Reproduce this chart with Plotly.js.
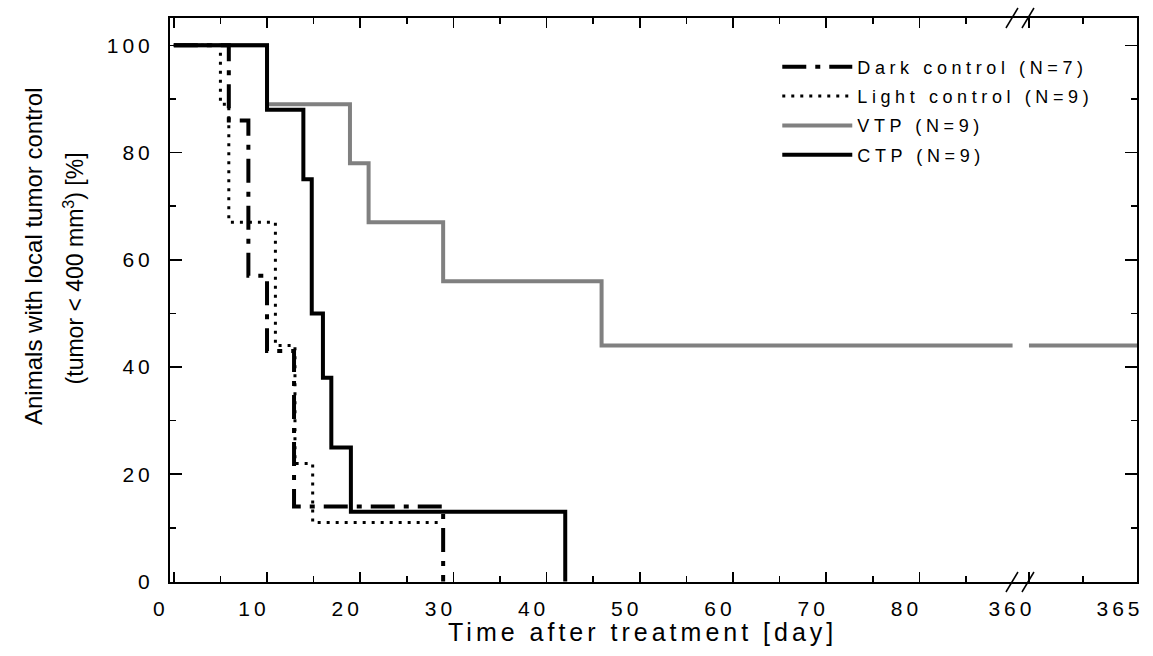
<!DOCTYPE html>
<html><head><meta charset="utf-8">
<script src="https://cdn.plot.ly/plotly-3.0.1.min.js"></script>
<style>
html,body{margin:0;padding:0;background:#fff;}
#chart{width:1153px;height:656px;}
g.xtick text, g.x2tick text, g.ytick text { letter-spacing: 4px; }
g.legend text.legendtext { letter-spacing: 4.6px; }
g.legend g.scrollbox, g.legend { clip-path: none !important; }
g.annotation[data-index="0"] text { letter-spacing: 4px; }
</style>
</head><body><div id="chart"></div>
<script>
// ---- data (days, % animals with local tumor control) ----
const darkDays  = [0, 5.9, 8.0, 10.0, 12.9, 28.9];
const darkSurv  = [100, 86, 57, 43, 14, 0];
const lightDays = [0, 5.0, 5.9, 10.9, 13.0, 14.9, 28.9];
const lightSurv = [100, 89, 67, 44, 22, 11, 11];
const vtpDays   = [0, 10.0, 18.9, 20.9, 28.9, 45.9, 90.0];
const vtpSurv   = [100, 89, 78, 67, 56, 44, 44];
const vtpTailDays = [360, 365];
const vtpTailSurv = [44, 44];
const ctpDays   = [0, 10.0, 13.9, 14.8, 16.0, 16.9, 19.0, 42.0];
const ctpSurv   = [100, 88, 75, 50, 38, 25, 13, 0];

const seriesNames = ['Dark control (N=7)', 'Light control (N=9)', 'VTP (N=9)', 'CTP (N=9)'];

const xTicksLeft  = [0, 10, 20, 30, 40, 50, 60, 70, 80];
const xMinorLeft  = [5, 15, 25, 35, 45, 55, 65, 75, 85];
const xTicksRight = [360, 365];
const xMinorRight = [362.5];
const yTicks = [0, 20, 40, 60, 80, 100];
const yMinor = [10, 30, 50, 70, 90];

const FONT = 'Liberation Sans, Arial, sans-serif';
const GRAY = '#808080';

const traces = [
  {x: vtpDays, y: vtpSurv, name: seriesNames[2], legendrank: 3, legendgroup: 'vtp', mode: 'lines',
   line: {shape: 'hv', color: GRAY, width: 4}, xaxis: 'x', yaxis: 'y'},
  {x: vtpTailDays, y: vtpTailSurv, name: seriesNames[2], legendgroup: 'vtp', showlegend: false, mode: 'lines',
   line: {shape: 'hv', color: GRAY, width: 4}, xaxis: 'x2', yaxis: 'y2'},
  {x: ctpDays, y: ctpSurv, name: seriesNames[3], legendrank: 4, legendgroup: 'ctp', mode: 'lines',
   line: {shape: 'hv', color: '#000', width: 4}, xaxis: 'x', yaxis: 'y'},
  {x: lightDays, y: lightSurv, name: seriesNames[1], legendrank: 2, legendgroup: 'light', mode: 'lines',
   line: {shape: 'hv', color: '#000', width: 3, dash: '3px,6px'}, xaxis: 'x', yaxis: 'y'},
  {x: darkDays, y: darkSurv, name: seriesNames[0], legendrank: 1, legendgroup: 'dark', mode: 'lines',
   line: {shape: 'hv', color: '#000', width: 4, dash: '24px,9px,5px,9px'}, xaxis: 'x', yaxis: 'y'}
];

const BRK = 0.880;
const tickFont = {family: FONT, size: 21, color: '#000'};

const axCommon = {
  showline: true, linecolor: '#000', linewidth: 2, showgrid: false, zeroline: false,
  ticks: 'inside', tickcolor: '#000', tickwidth: 1.5, tickfont: tickFont
};

const layout = {
  width: 1153, height: 656,
  margin: {l: 170, r: 16, t: 18, b: 74},
  paper_bgcolor: '#fff', plot_bgcolor: '#fff',
  font: {family: FONT, color: '#000'},
  showlegend: true,
  legend: {x: 0.628, y: 0.946, xanchor: 'left', yanchor: 'top', bgcolor: 'rgba(0,0,0,0)',
           font: {family: FONT, size: 18, color: '#000'}, itemwidth: 70,
           traceorder: 'grouped', tracegroupgap: 3},
  xaxis: Object.assign({}, axCommon, {
    domain: [0, BRK], range: [-0.41, 90.9], anchor: 'y',
    tickmode: 'array', tickvals: xTicksLeft, ticktext: xTicksLeft.map(String), ticklen: 10,
    mirror: 'allticks', ticklabelshift: -13, ticklabelstandoff: 7,
    minor: {tickmode: 'array', tickvals: xMinorLeft, ticks: 'inside', ticklen: 6, tickcolor: '#000', tickwidth: 1.5}
  }),
  xaxis2: Object.assign({}, axCommon, {
    domain: [BRK, 1], range: [359.63, 365], anchor: 'y2',
    tickmode: 'array', tickvals: xTicksRight, ticktext: xTicksRight.map(String), ticklen: 10,
    mirror: 'allticks', ticklabelshift: -17, ticklabelstandoff: 7,
    minor: {tickmode: 'array', tickvals: xMinorRight, ticks: 'inside', ticklen: 6, tickcolor: '#000', tickwidth: 1.5}
  }),
  yaxis: Object.assign({}, axCommon, {
    range: [-0.1, 105.1], anchor: 'x', tickmode: 'array', tickvals: yTicks, ticklen: 12,
    ticklabelstandoff: 10,
    minor: {tickmode: 'array', tickvals: yMinor, ticks: 'inside', ticklen: 6, tickcolor: '#000', tickwidth: 1.5}
  }),
  yaxis2: Object.assign({}, axCommon, {
    range: [-0.1, 105.1], anchor: 'x2', side: 'right', tickmode: 'array', tickvals: yTicks, ticklen: 12,
    showticklabels: false,
    minor: {tickmode: 'array', tickvals: yMinor, ticks: 'inside', ticklen: 6, tickcolor: '#000', tickwidth: 1.5}
  }),
  annotations: [
    {text: 'Time after treatment [day]', xref: 'paper', yref: 'paper', x: 0.489, y: -0.0887,
     xanchor: 'center', yanchor: 'middle', showarrow: false, font: {family: FONT, size: 25, color: '#000'}},
    {text: 'Animals with local tumor control', xref: 'paper', yref: 'paper', x: -0.1417, y: 0.578,
     xanchor: 'center', yanchor: 'middle', textangle: -90, showarrow: false, font: {family: FONT, size: 24, color: '#000'}},
    {text: '(tumor < 400 mm<sup>3</sup>) [%]', xref: 'paper', yref: 'paper', x: -0.0993, y: 0.556,
     xanchor: 'center', yanchor: 'middle', textangle: -90, showarrow: false, font: {family: FONT, size: 23, color: '#000'}}
  ],
  shapes: [
    // axis-break marks at top and bottom
    {type: 'line', xref: 'paper', yref: 'paper', xsizemode: 'pixel', ysizemode: 'pixel', xanchor: BRK, yanchor: 1,
     x0: -15, x1: -3, y0: -10, y1: 10, line: {color: '#000', width: 1.5}},
    {type: 'line', xref: 'paper', yref: 'paper', xsizemode: 'pixel', ysizemode: 'pixel', xanchor: BRK, yanchor: 1,
     x0: 1, x1: 13, y0: -10, y1: 10, line: {color: '#000', width: 1.5}},
    {type: 'line', xref: 'paper', yref: 'paper', xsizemode: 'pixel', ysizemode: 'pixel', xanchor: BRK, yanchor: 0,
     x0: -15, x1: -3, y0: -10, y1: 10, line: {color: '#000', width: 1.5}},
    {type: 'line', xref: 'paper', yref: 'paper', xsizemode: 'pixel', ysizemode: 'pixel', xanchor: BRK, yanchor: 0,
     x0: 1, x1: 13, y0: -10, y1: 10, line: {color: '#000', width: 1.5}}
  ]
};

Plotly.newPlot('chart', traces, layout, {displayModeBar: false, staticPlot: true});
</script>
</body></html>
